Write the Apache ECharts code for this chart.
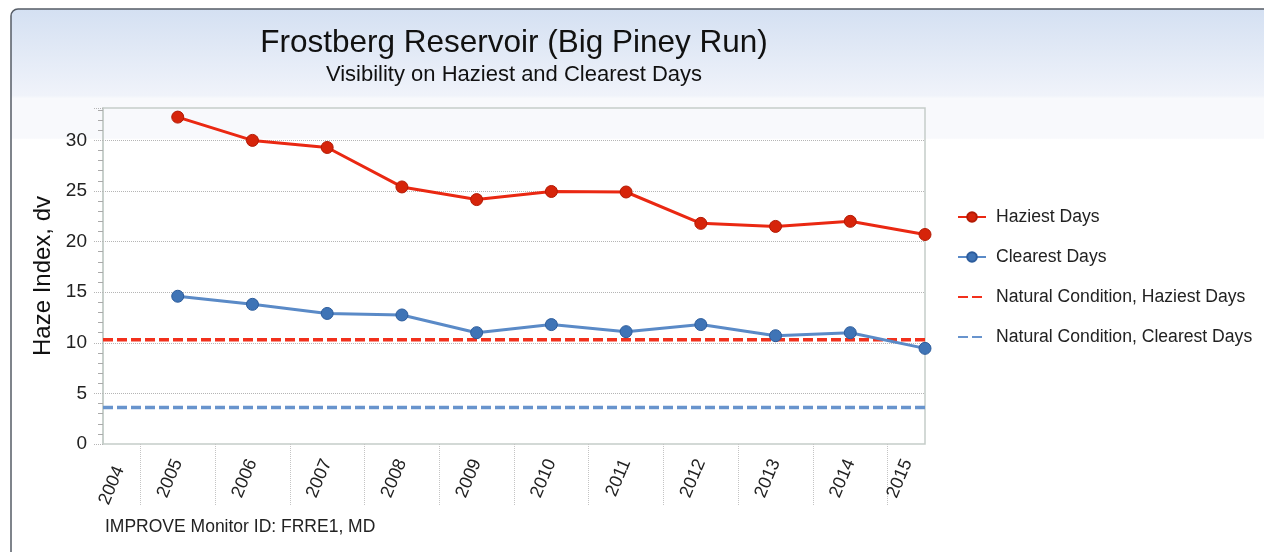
<!DOCTYPE html>
<html>
<head>
<meta charset="utf-8">
<title>Frostberg Reservoir (Big Piney Run)</title>
<script src="https://cdn.jsdelivr.net/npm/echarts@6/dist/echarts.min.js"></script>
<style>
  html, body { margin: 0; padding: 0; background: #fff; }
  #chart { width: 1264px; height: 552px; }
</style>
</head>
<body>
<div id="chart"></div>
<script>
  // years with measurements
  var years = [2005, 2006, 2007, 2008, 2009, 2010, 2011, 2012, 2013, 2014, 2015]
  var haziestDays = [32.3, 30.0, 29.3, 25.4, 24.15, 24.95, 24.9, 21.8, 21.5, 22.0, 20.7]
  var clearestDays = [14.6, 13.8, 12.9, 12.75, 11.0, 11.8, 11.1, 11.8, 10.7, 11.0, 9.45]
  // natural condition levels (flat lines across the whole range)
  var naturalHaziest = 10.3
  var naturalClearest = 3.6
  // x axis tick labels and the dotted separators between them
  var axisYears = [2004, 2005, 2006, 2007, 2008, 2009, 2010, 2011, 2012, 2013, 2014, 2015]
  var separators = [2004.5, 2005.5, 2006.5, 2007.5, 2008.5, 2009.5, 2010.5, 2011.5, 2012.5, 2013.5, 2014.5]

  var font = 'Liberation Sans, Arial, sans-serif'

  function pairs(xs, ys) {
    return xs.map(function (x, i) { return [x, ys[i]] })
  }
  function flat(v) {
    return [[axisYears[0], v], [axisYears[axisYears.length - 1], v]]
  }

  var chart = echarts.init(document.getElementById('chart'))
  chart.setOption({
    animation: false,
    backgroundColor: '#ffffff',
    textStyle: { fontFamily: font },
    graphic: [{
      type: 'rect',
      z: -10,
      silent: true,
      shape: { x: 11, y: 9, width: 1300, height: 600, r: 7 },
      style: {
        stroke: '#555c66',
        lineWidth: 1.5,
        fill: new echarts.graphic.LinearGradient(0, 0, 0, 1, [
          { offset: 0, color: '#d4e0f2' },
          { offset: 0.145, color: '#f0f3fa' },
          { offset: 0.15, color: '#f8f9fc' },
          { offset: 0.216, color: '#f8f9fc' },
          { offset: 0.218, color: '#ffffff' },
          { offset: 1, color: '#ffffff' }
        ])
      }
    }],
    title: [{
      text: 'Frostberg Reservoir (Big Piney Run)',
      left: 514,
      top: 27,
      textAlign: 'center',
      padding: 0,
      textStyle: { fontFamily: font, fontSize: 31.5, fontWeight: 'normal', color: '#111' }
    }, {
      text: 'Visibility on Haziest and Clearest Days',
      left: 514,
      top: 64,
      textAlign: 'center',
      padding: 0,
      textStyle: { fontFamily: font, fontSize: 22, fontWeight: 'normal', color: '#111' }
    }, {
      text: 'IMPROVE Monitor ID: FRRE1, MD',
      left: 105,
      top: 518,
      padding: 0,
      textStyle: { fontFamily: font, fontSize: 17.5, fontWeight: 'normal', color: '#222' }
    }],
    legend: {
      orient: 'vertical',
      left: 957,
      top: 208,
      padding: 0,
      itemWidth: 28,
      itemHeight: 12,
      itemGap: 22,
      textStyle: { fontFamily: font, fontSize: 17.6, color: '#222', padding: [0, 0, 0, 5] },
      data: [
        { name: 'Haziest Days' },
        { name: 'Clearest Days' },
        { name: 'Natural Condition, Haziest Days', itemStyle: { opacity: 0 } },
        { name: 'Natural Condition, Clearest Days', itemStyle: { opacity: 0 } }
      ]
    },
    grid: {
      left: 103,
      right: 339,
      top: 108,
      bottom: 108,
      show: true,
      borderColor: '#c5cdc9',
      borderWidth: 1.5,
      backgroundColor: 'transparent'
    },
    xAxis: {
      type: 'value',
      min: 2004,
      max: 2015,
      interval: 1,
      axisLine: { show: false },
      splitLine: { show: false },
      axisTick: {
        show: true,
        customValues: separators,
        length: 62,
        lineStyle: { color: '#c4c4c4', type: 'dotted', width: 1 }
      },
      axisLabel: {
        customValues: axisYears,
        rotate: 67,
        margin: 16,
        fontFamily: font,
        fontSize: 18,
        color: '#222',
        formatter: function (v) {
          if (v === 2004) return '{first|' + v + '}'
          if (v === 2015) return '{last|' + v + '}'
          return String(v)
        },
        rich: {
          first: { fontFamily: font, fontSize: 18, color: '#222', padding: [36, 0, 0, 0] },
          last: { fontFamily: font, fontSize: 18, color: '#222', padding: [0, 7, 32, 0] }
        }
      }
    },
    yAxis: {
      type: 'value',
      min: 0,
      max: 33.2,
      interval: 5,
      name: 'Haze Index, dv',
      nameLocation: 'middle',
      nameGap: 45,
      nameTextStyle: { fontFamily: font, fontSize: 24, color: '#111' },
      axisLine: { show: true, lineStyle: { color: '#c5cdc9', width: 1.5 } },
      axisTick: { show: true, length: 10, lineStyle: { color: '#b5b5b5', type: 'dotted' } },
      minorTick: { show: true, splitNumber: 5, length: 5, lineStyle: { color: '#aaa' } },
      axisLabel: { margin: 16, fontFamily: font, fontSize: 19, color: '#222', showMaxLabel: false },
      splitLine: { show: true, showMinLine: false, showMaxLine: false, lineStyle: { color: '#b5b5b5', type: 'dotted' } }
    },
    series: [{
      name: 'Haziest Days',
      type: 'line',
      z: 4,
      data: pairs(years, haziestDays),
      symbol: 'circle',
      symbolSize: 12,
      lineStyle: { color: '#ea2812', width: 3 },
      itemStyle: { color: '#d6240a', borderColor: '#b31a04', borderWidth: 1 }
    }, {
      name: 'Clearest Days',
      type: 'line',
      z: 4,
      data: pairs(years, clearestDays),
      symbol: 'circle',
      symbolSize: 12,
      lineStyle: { color: '#5a8ac7', width: 3 },
      itemStyle: { color: '#3f74b6', borderColor: '#2c5c9c', borderWidth: 1 }
    }, {
      name: 'Natural Condition, Haziest Days',
      type: 'line',
      z: 3,
      data: flat(naturalHaziest),
      symbol: 'none',
      lineStyle: { color: '#f2301c', width: 3.5, type: [10, 4] },
      itemStyle: { color: '#f2301c' }
    }, {
      name: 'Natural Condition, Clearest Days',
      type: 'line',
      z: 3,
      data: flat(naturalClearest),
      symbol: 'none',
      lineStyle: { color: '#6894cd', width: 3.5, type: [10, 4] },
      itemStyle: { color: '#6894cd' }
    }]
  })
</script>
</body>
</html>
